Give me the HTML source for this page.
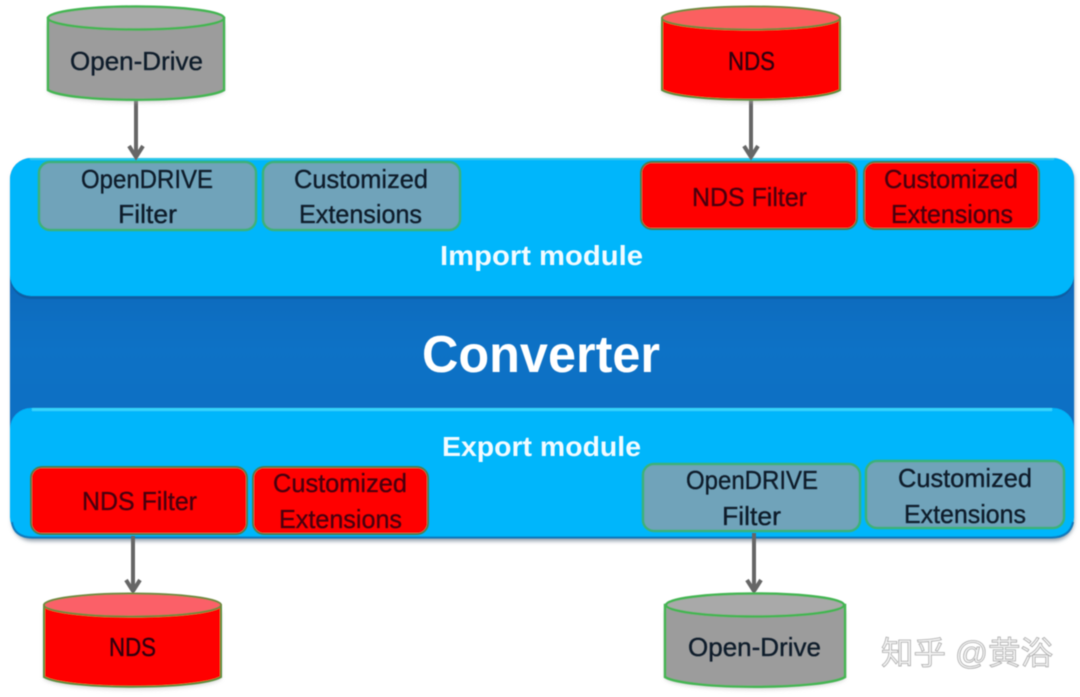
<!DOCTYPE html>
<html>
<head>
<meta charset="utf-8">
<style>
html,body{margin:0;padding:0;background:#fff;}
svg{display:block;}
text{font-family:"Liberation Sans","Noto Sans CJK SC",sans-serif;text-anchor:start;}
.t{font-size:26px;fill:#0c1c2a;stroke:#0c1c2a;stroke-width:.35px;}
.r{font-size:26px;fill:#4a0010;stroke:#4a0010;stroke-width:.35px;}
.w{font-weight:bold;fill:#f2fbff;}
</style>
</head>
<body>
<svg width="1080" height="697" viewBox="0 0 1080 697" xmlns="http://www.w3.org/2000/svg">
<defs>
<linearGradient id="band" x1="0" y1="0" x2="0" y2="1">
<stop offset="0" stop-color="#075fae"/><stop offset="0.5" stop-color="#0b72c6"/><stop offset="1" stop-color="#0a6cbf"/>
</linearGradient>
<filter id="sh" x="-10%" y="-10%" width="120%" height="125%"><feGaussianBlur stdDeviation="2"/></filter>
<filter id="soft" x="-5%" y="-5%" width="110%" height="110%"><feGaussianBlur stdDeviation="0.5"/></filter>
</defs>

<!-- main panel -->
<rect x="12" y="161" width="1062" height="380" rx="20" fill="#8d9ba8" filter="url(#sh)"/>
<g filter="url(#soft)">
<rect x="10" y="180" width="1064" height="340" rx="4" fill="url(#band)"/>
<rect x="10" y="158" width="1064" height="141" rx="21" fill="#075b9c" opacity=".75"/>
<rect x="10" y="158" width="1064" height="138" rx="21" fill="#05b6fb"/>
<path d="M30 159 H1054" stroke="#2fc9e8" stroke-width="2" fill="none"/>
<rect x="10" y="408" width="1064" height="130" rx="21" fill="#05b6fb"/>
<path d="M32 409.500 H1052" stroke="#35d4fb" stroke-width="3" fill="none"/>
<path d="M12 522 Q14 537 32 537.500 H1052 Q1070 537 1073 522" stroke="#0a79bd" stroke-width="2" fill="none"/>
</g>

<!-- arrows -->
<g stroke="#666" stroke-width="4" fill="none" filter="url(#soft)">
<path d="M136 100V157M129 146L136 157L143 146"/>
<path d="M751 100V157M744 146L751 157L758 146"/>
<path d="M133 536V591M126 580L133 591L140 580"/>
<path d="M754 533V591M747 580L754 591L761 580"/>
</g>

<!-- cylinders -->
<path d="M48 24 V92 C70 106 202 106 224 92 V24Z" fill="#b0b0b0" opacity=".55" filter="url(#sh)"/>
<path d="M662 24 V92 C684 106 818 106 840 92 V24Z" fill="#b0b0b0" opacity=".55" filter="url(#sh)"/>
<path d="M44 611 V679 C66 693 199 693 221 679 V611Z" fill="#b0b0b0" opacity=".55" filter="url(#sh)"/>
<path d="M665 611 V679 C687 693 823 693 845 679 V611Z" fill="#b0b0b0" opacity=".55" filter="url(#sh)"/>
<g filter="url(#soft)">
<g>
<path d="M48 18 V90 C70 103 202 103 224 90 V18Z" fill="#9c9c9c" stroke="#45b553" stroke-width="2.500"/>
<ellipse cx="136" cy="18" rx="88" ry="11.500" fill="#a9a9a9" stroke="#45b553" stroke-width="2.500"/>
</g>
<g>
<path d="M662 18 V90 C684 103 818 103 840 90 V18Z" fill="#ff0000" stroke="#5c8f3c" stroke-width="2"/>
<ellipse cx="751" cy="18" rx="89" ry="11.500" fill="#fb6060" stroke="#6f8a40" stroke-width="2"/>
</g>
<g>
<path d="M44 605 V677 C66 690 199 690 221 677 V605Z" fill="#ff0000" stroke="#5c8f3c" stroke-width="2"/>
<ellipse cx="132.500" cy="605" rx="88.500" ry="11.500" fill="#fb6068" stroke="#6f8a40" stroke-width="2"/>
</g>
<g>
<path d="M665 605 V677 C687 690 823 690 845 677 V605Z" fill="#9c9c9c" stroke="#45b553" stroke-width="2.500"/>
<ellipse cx="755" cy="605" rx="89" ry="11.500" fill="#a9a9a9" stroke="#45b553" stroke-width="2.500"/>
</g>
</g>

<!-- filter boxes -->
<g filter="url(#soft)">
<g fill="#6fa3ba" stroke="#3cb179" stroke-width="2.500">
<rect x="39" y="162" width="217" height="68" rx="11"/>
<rect x="263" y="162" width="197" height="68" rx="11"/>
<rect x="643" y="464" width="217" height="67" rx="11"/>
<rect x="866" y="461" width="198" height="67" rx="11"/>
</g>
<g fill="#ff0000" stroke="#4b7f4f" stroke-width="2">
<rect x="641" y="162" width="216" height="67" rx="11"/>
<rect x="864" y="162" width="175" height="67" rx="11"/>
<rect x="31" y="467" width="216" height="67" rx="11"/>
<rect x="253" y="467" width="175" height="67" rx="11"/>
</g>
</g>

<!-- labels -->
<g filter="url(#soft)">
<text class="t" x="70" y="70" textLength="133" lengthAdjust="spacingAndGlyphs">Open-Drive</text>
<text class="t" x="688" y="656" textLength="133" lengthAdjust="spacingAndGlyphs">Open-Drive</text>
<text class="r" style="fill:#300010;stroke:#300010" x="728" y="70" textLength="47" lengthAdjust="spacingAndGlyphs">NDS</text>
<text class="r" style="fill:#300010;stroke:#300010" x="109" y="656" textLength="47" lengthAdjust="spacingAndGlyphs">NDS</text>

<text class="t" x="81" y="188" textLength="132" lengthAdjust="spacingAndGlyphs">OpenDRIVE</text>
<text class="t" x="118" y="223" textLength="59" lengthAdjust="spacingAndGlyphs">Filter</text>
<text class="t" x="294" y="188" textLength="134" lengthAdjust="spacingAndGlyphs">Customized</text>
<text class="t" x="299" y="223" textLength="123" lengthAdjust="spacingAndGlyphs">Extensions</text>

<text class="r" x="692" y="206" textLength="115" lengthAdjust="spacingAndGlyphs">NDS Filter</text>
<text class="r" x="884" y="188" textLength="134" lengthAdjust="spacingAndGlyphs">Customized</text>
<text class="r" x="891" y="223" textLength="122" lengthAdjust="spacingAndGlyphs">Extensions</text>

<text class="w" x="440" y="265" font-size="28" textLength="203" lengthAdjust="spacingAndGlyphs">Import module</text>
<text class="w" x="422" y="372" font-size="52" textLength="238" lengthAdjust="spacingAndGlyphs" style="fill:#fff">Converter</text>
<text class="w" x="442" y="456" font-size="28" textLength="199" lengthAdjust="spacingAndGlyphs">Export module</text>

<text class="r" x="82" y="510" textLength="115" lengthAdjust="spacingAndGlyphs">NDS Filter</text>
<text class="r" x="273" y="492" textLength="134" lengthAdjust="spacingAndGlyphs">Customized</text>
<text class="r" x="279" y="528" textLength="123" lengthAdjust="spacingAndGlyphs">Extensions</text>

<text class="t" x="686" y="489" textLength="132" lengthAdjust="spacingAndGlyphs">OpenDRIVE</text>
<text class="t" x="722" y="525" textLength="59" lengthAdjust="spacingAndGlyphs">Filter</text>
<text class="t" x="898" y="487" textLength="134" lengthAdjust="spacingAndGlyphs">Customized</text>
<text class="t" x="904" y="523" textLength="122" lengthAdjust="spacingAndGlyphs">Extensions</text>

<text x="881" y="664" font-size="32" textLength="172" lengthAdjust="spacingAndGlyphs" fill="#f4f4f4" stroke="#a8a8a8" stroke-width="0.800">知乎 @黄浴</text>
</g>
</svg>
</body>
</html>
